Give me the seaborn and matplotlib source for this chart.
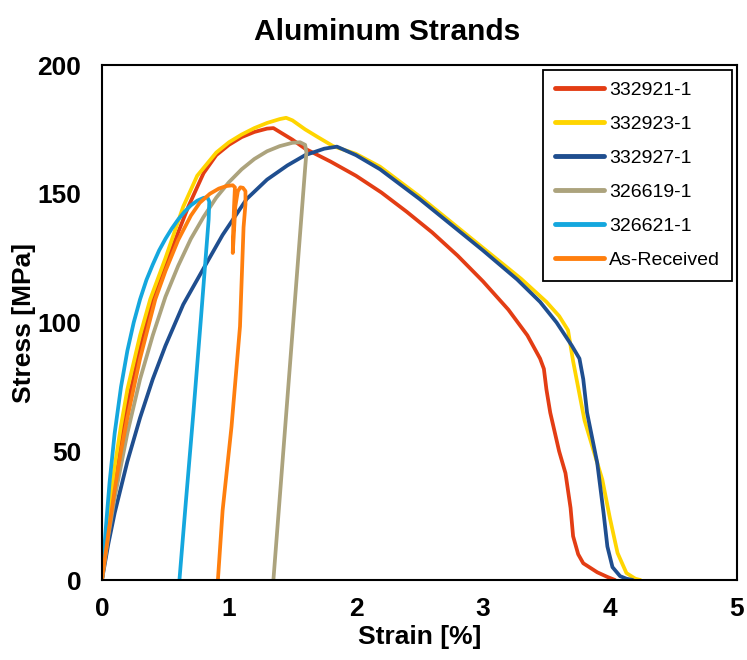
import pandas as pd
import seaborn as sns
import matplotlib.pyplot as plt

labels = ["332921-1", "332923-1", "332927-1", "326619-1", "326621-1", "As-Received"]
colors = ["#E33D14", "#FFD500", "#1F4E8F", "#ACA37D", "#14A7DE", "#FF7F0E"]

strain_921 = [0, 0.05, 0.1, 0.15, 0.2, 0.3, 0.4, 0.5, 0.6, 0.68, 0.8, 0.9, 1.0, 1.1, 1.2, 1.3,
              1.35, 1.4, 1.5, 1.6, 1.8, 2.0, 2.2, 2.4, 2.6, 2.8, 3.0, 3.2, 3.35, 3.45, 3.48,
              3.5, 3.53, 3.6, 3.65, 3.69, 3.71, 3.75, 3.79, 3.9, 3.98, 4.04]
stress_921 = [0, 21, 40, 55, 68, 90, 109, 122, 135, 145, 158, 165, 169, 172, 174, 175.3,
              175.5, 174, 171, 167.5, 162.5, 157, 150.5, 143, 135, 126, 116, 105, 95, 86, 82,
              74, 65, 50, 41.5, 28, 17, 10, 6.5, 3, 1.2, 0]

strain_923 = [0, 0.05, 0.1, 0.15, 0.2, 0.3, 0.38, 0.5, 0.64, 0.75, 0.9, 1.0, 1.1, 1.2, 1.3,
              1.4, 1.45, 1.5, 1.6, 1.7, 1.82, 2.0, 2.19, 2.5, 3.0, 3.3, 3.5, 3.6, 3.67, 3.71,
              3.8, 3.9, 3.94, 4.0, 4.06, 4.13, 4.2, 4.24]
stress_923 = [0, 23, 44, 60, 74, 95, 109, 125, 145, 157, 166, 170, 173, 175.5, 177.5,
              179, 179.5, 178.5, 175, 172, 168.5, 165.5, 160.5, 149, 129, 117, 108, 102.5, 97, 85,
              62, 45.5, 39, 24, 10.5, 2.7, 0.5, 0]

strain_927 = [0, 0.05, 0.1, 0.2, 0.3, 0.4, 0.5, 0.64, 0.8, 0.95, 1.14, 1.3, 1.46, 1.6, 1.75,
              1.85, 2.0, 2.19, 2.5, 3.0, 3.27, 3.45, 3.58, 3.7, 3.76, 3.79, 3.82, 3.9, 3.95,
              3.98, 4.02, 4.08, 4.13, 4.18]
stress_927 = [0, 14, 26, 46, 63, 78, 91, 107, 121, 134, 148, 155.5, 161, 165, 167.5,
              168.3, 165, 159.5, 148, 128, 116.7, 108, 100, 91, 86, 78, 65, 45.5, 26,
              13, 5, 1.5, 0.5, 0]

strain_619 = [0, 0.05, 0.1, 0.2, 0.3, 0.4, 0.5, 0.6, 0.7, 0.8, 0.9, 1.0, 1.1, 1.2, 1.3, 1.4,
              1.5, 1.56, 1.6, 1.61, 1.6, 1.55, 1.5, 1.45, 1.4, 1.35]
stress_619 = [0, 17, 32, 57, 78, 95, 110, 122, 132.5, 141, 148.5, 154.5, 159.5, 163.5, 166.5,
              168.5, 169.8, 170, 169, 166, 160, 128, 96, 64, 32, 0]

strain_621 = [0, 0.03, 0.06, 0.1, 0.15, 0.2, 0.25, 0.3, 0.35, 0.4, 0.45, 0.5, 0.55, 0.6, 0.65,
              0.7, 0.75, 0.8, 0.83, 0.845, 0.84, 0.78, 0.72, 0.66, 0.61]
stress_621 = [0, 20, 38, 57, 75, 89, 100, 109, 116.5, 122.5, 128, 132.5, 136.5, 140, 143,
              145.5, 147.3, 148.4, 148.6, 147, 140, 102, 65, 30, 0]

strain_asr = [0, 0.05, 0.1, 0.15, 0.2, 0.3, 0.42, 0.5, 0.6, 0.7, 0.77, 0.85, 0.92, 0.98, 1.03,
              1.047, 1.04, 1.033, 1.03, 1.037, 1.05, 1.07, 1.09, 1.11, 1.13, 1.13, 1.115, 1.087,
              1.02, 0.95, 0.913]
stress_asr = [0, 18, 35, 50, 63, 86, 109, 120, 132, 141.5, 146.5, 150, 152, 153, 153.3,
              152.5, 145, 135, 127, 133, 145, 151, 152.5, 152.3, 151, 146, 137, 98.5,
              59.5, 27, 0]

strains = [strain_921, strain_923, strain_927, strain_619, strain_621, strain_asr]
stresses = [stress_921, stress_923, stress_927, stress_619, stress_621, stress_asr]

rows = []
for lab, xs, ys in zip(labels, strains, stresses):
    for x, y in zip(xs, ys):
        rows.append({"Sample": lab, "Strain": x, "Stress": y})
df = pd.DataFrame(rows)

sns.set_style("white")
plt.rcParams["font.family"] = ["Liberation Sans", "DejaVu Sans"]
plt.rcParams["text.color"] = "black"
plt.rcParams["axes.labelcolor"] = "black"
plt.rcParams["xtick.color"] = "black"
plt.rcParams["ytick.color"] = "black"

fig = plt.figure(figsize=(7.47, 6.6), dpi=100)
ax = fig.add_axes([0.1365, 0.1212, 0.85, 0.7803])

sns.lineplot(data=df, x="Strain", y="Stress", hue="Sample", hue_order=labels,
             palette=colors, sort=False, estimator=None, units="Sample",
             linewidth=2.7, ax=ax)

ax.set_xlim(0, 5)
ax.set_ylim(0, 200)
ax.set_xticks([0, 1, 2, 3, 4, 5])
ax.set_yticks([0, 50, 100, 150, 200])
ax.tick_params(axis="both", direction="in", length=5, width=1.3, labelsize=19,
               pad=12, top=False, right=False)
ax.tick_params(axis="y", pad=15)
for t in ax.get_xticklabels() + ax.get_yticklabels():
    t.set_fontweight("bold")
for s in ax.spines.values():
    s.set_color("black")
    s.set_linewidth(1.5)

ax.set_xlabel("Strain [%]", fontsize=19, fontweight="bold", labelpad=3)
ax.set_ylabel("Stress [MPa]", fontsize=19, fontweight="bold", labelpad=1)
ax.set_title("Aluminum Strands", fontsize=21.5, fontweight="bold", pad=18, x=0.449)

leg = ax.legend(loc="upper right", fontsize=14, frameon=True, fancybox=False,
                framealpha=1, edgecolor="black", borderaxespad=0.25,
                handlelength=2.5, handletextpad=0.3, labelspacing=0.84,
                borderpad=0.6)
leg.get_frame().set_linewidth(1.3)
for line in leg.get_lines():
    line.set_linewidth(3.5)

fig.savefig("out.png", dpi=100)
